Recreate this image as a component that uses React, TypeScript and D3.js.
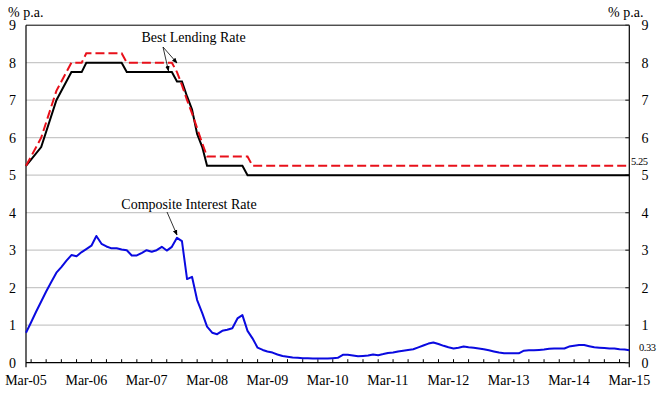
import React from "react";
import * as d3 from "d3";

const W = 667;
const H = 394;

// Best lending rate, lower bound (black solid) — turning points
const blrLowDates = ["2005-03","2005-06","2005-09","2005-12","2006-02","2006-03","2006-10","2006-11","2007-08","2007-09","2007-10","2007-11","2007-12","2008-01","2008-02","2008-03","2008-10","2008-11","2015-03"];
const blrLowValues = [5.25,5.75,7.0,7.75,7.75,8.0,8.0,7.75,7.75,7.5,7.5,7.1,6.75,6.1,5.75,5.25,5.25,5.0,5.0];

// Best lending rate, upper bound (red dashed) — turning points
const blrHighDates = ["2005-03","2005-06","2005-09","2005-12","2006-02","2006-03","2006-10","2006-11","2007-08","2007-09","2007-10","2007-11","2007-12","2008-01","2008-02","2008-03","2008-11","2008-12","2015-03"];
const blrHighValues = [5.25,6.0,7.25,8.0,8.0,8.25,8.25,8.0,8.0,7.75,7.4,7.0,6.65,6.25,5.85,5.5,5.5,5.25,5.25];

// Composite interest rate, monthly from Mar-05 to Mar-15
const compositeStart = "2005-03";
const compositeValues = [
  0.80,1.08,1.36,1.63,1.90,2.15,2.40,2.55,2.72,2.87,2.84,2.95,
  3.03,3.12,3.38,3.17,3.10,3.05,3.05,3.02,3.00,2.86,2.86,2.93,
  3.00,2.96,3.00,3.09,2.99,3.09,3.33,3.24,2.23,2.29,1.67,1.32,
  0.96,0.80,0.76,0.85,0.88,0.92,1.18,1.27,0.85,0.65,0.40,0.34,
  0.30,0.27,0.22,0.18,0.16,0.14,0.13,0.12,0.12,0.11,0.11,0.11,
  0.11,0.12,0.13,0.21,0.21,0.19,0.17,0.18,0.19,0.22,0.20,0.23,
  0.26,0.27,0.30,0.32,0.34,0.36,0.41,0.46,0.51,0.54,0.50,0.45,
  0.41,0.38,0.40,0.43,0.41,0.40,0.38,0.36,0.33,0.30,0.27,0.25,
  0.25,0.25,0.25,0.32,0.33,0.33,0.34,0.35,0.37,0.38,0.38,0.38,
  0.43,0.45,0.47,0.47,0.44,0.41,0.40,0.39,0.38,0.38,0.36,0.35,
  0.33
];

const yTicks = [0,1,2,3,4,5,6,7,8,9];
const xTickYears = ["05","06","07","08","09","10","11","12","13","14","15"];
const unitLabel = "% p.a.";
const blrLabel = "Best Lending Rate";
const compositeLabel = "Composite Interest Rate";
const endLabelBLR = "5.25";
const endLabelComposite = "0.33";

const parse = d3.timeParse("%Y-%m");

export default function App() {
  const left = 26, right = 629.3, top = 25.2, bottom = 362.7;
  const x = d3.scaleTime().domain([parse("2005-03")!, parse("2015-03")!]).range([left, right]);
  const y = d3.scaleLinear().domain([0, 9]).range([bottom, top]);

  const line = d3.line<[Date, number]>().x(d => x(d[0])).y(d => y(d[1]));
  const low: [Date, number][] = blrLowDates.map((d, i) => [parse(d)!, blrLowValues[i]]);
  const high: [Date, number][] = blrHighDates.map((d, i) => [parse(d)!, blrHighValues[i]]);
  const start = parse(compositeStart)!;
  const comp: [Date, number][] = compositeValues.map((v, i) => [d3.timeMonth.offset(start, i), v]);

  const quarterTicks = d3.timeMonth.every(3)!.range(parse("2005-03")!, d3.timeMonth.offset(parse("2015-03")!, 1));
  const font = "'Liberation Serif', 'Times New Roman', serif";

  return (
    <svg width={W} height={H} style={{ position: "absolute", left: 0, top: 0, background: "#fff" }} fontFamily={font}>
      <defs>
        <marker id="arr" viewBox="0 0 10 10" refX="9" refY="5" markerWidth="7" markerHeight="7" orient="auto-start-reverse">
          <path d="M0,1 L10,5 L0,9 z" fill="#000" />
        </marker>
      </defs>
      {/* gridlines */}
      {yTicks.filter(t => t > 0 && t < 9).map(t => (
        <line key={"g" + t} x1={left} x2={right} y1={y(t)} y2={y(t)} stroke="#c8c8c8" strokeWidth={1.3} />
      ))}
      {/* frame */}
      <line x1={left} x2={right} y1={y(9)} y2={y(9)} stroke="#000" strokeWidth={1} />
      <line x1={left} x2={right} y1={bottom} y2={bottom} stroke="#000" strokeWidth={1.2} />
      <line x1={left} x2={left} y1={top} y2={bottom + 4.5} stroke="#000" strokeWidth={1.2} />
      <line x1={right} x2={right} y1={top} y2={bottom + 4.5} stroke="#000" strokeWidth={1.2} />
      {/* right axis ticks */}
      {yTicks.map(t => (
        <line key={"rt" + t} x1={right - 4} x2={right} y1={y(t)} y2={y(t)} stroke="#333" strokeWidth={1.2} />
      ))}
      {/* x ticks */}
      {quarterTicks.map((d, i) => {
        const major = d.getMonth() === 2;
        return (
          <line key={"xt" + i} x1={x(d)} x2={x(d)} y1={major ? bottom - 4.5 : bottom - 3.5} y2={major ? bottom + 4.5 : bottom} stroke="#000" strokeWidth={1} />
        );
      })}
      {/* x labels */}
      {xTickYears.map(yy => (
        <text key={"xl" + yy} x={x(parse("20" + yy + "-03")!)} y={385} fontSize={14} textAnchor="middle">{"Mar-" + yy}</text>
      ))}
      {/* y labels */}
      {yTicks.map(t => (
        <g key={"yl" + t}>
          <text x={12.5} y={y(t) + 4.8} fontSize={14} textAnchor="middle">{t}</text>
          <text x={645} y={y(t) + 4.8} fontSize={14} textAnchor="middle">{t}</text>
        </g>
      ))}
      <text x={8} y={16.5} fontSize={14}>{unitLabel}</text>
      <text x={608} y={16.5} fontSize={14}>{unitLabel}</text>

      {/* series */}
      <path d={line(comp)!} fill="none" stroke="#0a0ae0" strokeWidth={2} strokeLinejoin="round" />
      <path d={line(low)!} fill="none" stroke="#000" strokeWidth={2} />
      <path d={line(high)!} fill="none" stroke="#e8101a" strokeWidth={2} strokeDasharray="9,4" />

      {/* end labels */}
      <text x={631} y={164.5} fontSize={10.5} letterSpacing={-0.5}>{endLabelBLR}</text>
      <text x={639} y={351} fontSize={10.5} letterSpacing={-0.5}>{endLabelComposite}</text>

      {/* annotations */}
      <text x={193.5} y={41.5} fontSize={14} textAnchor="middle">{blrLabel}</text>
      <line x1={163} x2={177} y1={47} y2={63} stroke="#000" strokeWidth={0.8} markerEnd="url(#arr)" />
      <line x1={163} x2={168.5} y1={47} y2={71} stroke="#000" strokeWidth={0.8} markerEnd="url(#arr)" />
      <text x={189} y={208.5} fontSize={14} textAnchor="middle">{compositeLabel}</text>
      <line x1={167} x2={177} y1={212} y2={235} stroke="#000" strokeWidth={0.8} markerEnd="url(#arr)" />
    </svg>
  );
}
